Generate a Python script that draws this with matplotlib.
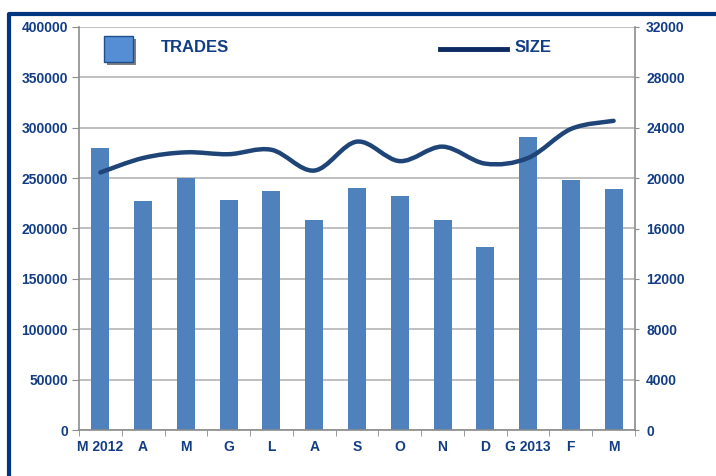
import numpy as np
import matplotlib as mpl
import matplotlib.pyplot as plt
from matplotlib.path import Path
from matplotlib.patches import PathPatch, Rectangle
from matplotlib.lines import Line2D

mpl.rcParams['font.family'] = ['Liberation Sans', 'DejaVu Sans']

#--------------------------------------------------
# data
#--------------------------------------------------
months = ['M 2012', 'A', 'M', 'G', 'L', 'A', 'S', 'O', 'N', 'D', 'G 2013', 'F', 'M']
trades = [280000, 227000, 250000, 228000, 237000, 208000, 240000,
          232000, 208000, 182000, 291000, 248000, 239000]
size = [20450, 21600, 22050, 21900, 22250, 20600, 22900,
        21350, 22500, 21150, 21600, 23900, 24550]

navy = '#123d85'
bar_c = '#4f81bd'
line_c = '#1f4478'

#--------------------------------------------------
def smooth_path(x, y, t=1/6):
    # cubic bezier through every point (excel-like smoothed line)
    x = np.asarray(x, float); y = np.asarray(y, float)
    verts = [(x[0], y[0])]
    codes = [Path.MOVETO]
    n = len(x)
    for i in range(n - 1):
        x0, y0 = (x[i-1], y[i-1]) if i > 0 else (x[i], y[i])
        x3, y3 = (x[i+2], y[i+2]) if i + 2 < n else (x[i+1], y[i+1])
        c1 = (x[i] + (x[i+1] - x0) * t, y[i] + (y[i+1] - y0) * t)
        c2 = (x[i+1] - (x3 - x[i]) * t, y[i+1] - (y3 - y[i]) * t)
        verts += [c1, c2, (x[i+1], y[i+1])]
        codes += [Path.CURVE4] * 3
    return Path(verts, codes)

#--------------------------------------------------
fig = plt.figure(figsize=(7.16, 4.76), dpi=100)
ax = fig.add_axes([79/716, 1-430/476, 556/716, 403/476])
xs = np.arange(len(months))

ax.bar(xs, trades, width=0.42, color=bar_c, zorder=2)
ax.set_xlim(-0.5, len(months) - 0.5)
ax.set_ylim(0, 400000)
ax.set_yticks(np.arange(0, 400001, 50000))
ax.grid(axis='y', color='#b4b4b4', lw=1.2, zorder=0)
ax.set_axisbelow(True)

ax.set_xticks(xs)
ax.set_xticklabels(months)
ax.set_xticks(np.arange(-0.5, len(months), 1), minor=True)
ax.tick_params(axis='x', which='major', length=0, pad=7)
ax.tick_params(axis='x', which='minor', length=4, color='#8c8c8c')
ax.tick_params(axis='y', length=5, color='#8c8c8c', pad=3)
for lab in ax.get_xticklabels() + ax.get_yticklabels():
    lab.set_fontweight('bold'); lab.set_color(navy); lab.set_fontsize(10)

for s in ['left', 'right', 'bottom']:
    ax.spines[s].set_color('#8c8c8c'); ax.spines[s].set_linewidth(1.2)
ax.spines['top'].set_visible(False)

ax2 = ax.twinx()
ax2.set_ylim(0, 32000)
ax2.set_yticks(np.arange(0, 32001, 4000))
ax2.tick_params(axis='y', length=3, color='#8c8c8c', pad=5)
for lab in ax2.get_yticklabels():
    lab.set_fontweight('bold'); lab.set_color(navy); lab.set_fontsize(10)
for s in ['left', 'right', 'bottom', 'top']:
    ax2.spines[s].set_visible(False)
ax2.add_patch(PathPatch(smooth_path(xs, size), fill=False, ec=line_c, lw=3.2,
                        capstyle='round', zorder=3))

#--------------------------------------------------
# legend drawn by hand (excel style)
#--------------------------------------------------
fig.add_artist(Rectangle((107/716, 1-65/476), 29/716, 26/476, transform=fig.transFigure,
                         fc='#7f7f7f', ec='none'))
fig.add_artist(Rectangle((104/716, 1-62/476), 29/716, 26/476, transform=fig.transFigure,
                         fc='#558ed5', ec='#1f4e8c', lw=1))
fig.text(161/716, 1-48/476, 'TRADES', fontsize=12, fontweight='bold', color=navy, va='center')
fig.add_artist(Line2D([440/716, 507/716], [1-49/476, 1-49/476], transform=fig.transFigure,
                      color='#0d2a62', lw=3.5))
fig.text(515/716, 1-48/476, 'SIZE', fontsize=12, fontweight='bold', color=navy, va='center')

# frame border
fig.add_artist(Line2D([9/716, 9/716, 1], [0, 1-14/476, 1-14/476], transform=fig.transFigure,
                      color='#003580', lw=3))

plt.savefig('out.png', dpi=100)
